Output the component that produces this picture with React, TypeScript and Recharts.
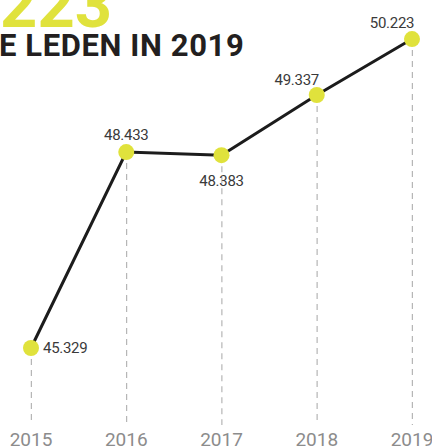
import { ComposedChart, Line, Bar, XAxis, YAxis } from "recharts";

const years = [2015, 2016, 2017, 2018, 2019];
const members = [45329, 48433, 48383, 49337, 50223];

// where each value label sits relative to its dot
const labelOffsets: [number, number, "start" | "middle"][] = [
  [12, 5, "start"],
  [0, -12, "middle"],
  [0, 31, "middle"],
  [-20, -10, "middle"],
  [-20, -11, "middle"],
];

const data = years.map((year, i) => ({ year, members: members[i] }));

const fmt = (v: number) => {
  const s = String(v);
  return s.slice(0, s.length - 3) + "." + s.slice(-3);
};

const DashedStem = (props: any) => {
  const { x, y, width, height } = props;
  const cx = x + width / 2;
  return (
    <line x1={cx} x2={cx} y1={y} y2={y + height} stroke="#b5b5b5" strokeWidth={1.2} strokeDasharray="6 5" />
  );
};

const ValueLabel = (props: any) => {
  const { x, y, index, value } = props;
  const [dx, dy, anchor] = labelOffsets[index];
  return (
    <text x={x + dx} y={y + dy} textAnchor={anchor} fontSize={15} fill="#3a3a3a" fontFamily="Roboto, sans-serif" letterSpacing={-0.3}>
      {fmt(value)}
    </text>
  );
};

export default function App() {
  return (
    <div style={{ position: "absolute", top: 0, left: 0, width: 432, height: 446, overflow: "hidden", background: "#fff" }}>
      <svg width={432} height={80} style={{ position: "absolute", top: 0, left: 0 }}>
        <text x={112} y={27} textAnchor="end" fontSize={65} fontWeight={700} fill="#e0e23c" fontFamily="Roboto, sans-serif">
          50.223
        </text>
        <text x={-1} y={56} fontSize={31} fontWeight={700} fill="#231f20" fontFamily="Roboto, sans-serif" letterSpacing={0.6}>
          E LEDEN IN 2019
        </text>
      </svg>
      <ComposedChart
        width={432}
        height={446}
        data={data}
        margin={{ top: 10, right: 20, bottom: 0, left: 31 }}
        style={{ position: "absolute", top: 0, left: 0 }}
      >
        <XAxis
          dataKey="year"
          type="number"
          domain={[2015, 2019]}
          ticks={years}
          axisLine={false}
          tickLine={false}
          tickSize={0}
          tickMargin={8}
          height={21}
          tick={{ fontSize: 19, fill: "#8c8c8c", fontFamily: "Roboto, sans-serif" }}
        />
        <YAxis hide domain={[44109, 50683]} />
        <Bar dataKey="members" barSize={2} shape={<DashedStem />} isAnimationActive={false} />
        <Line
          dataKey="members"
          stroke="#1c1c1c"
          strokeWidth={3}
          dot={{ r: 8, fill: "#e0e23c", stroke: "none" }}
          activeDot={false}
          label={<ValueLabel />}
          isAnimationActive={false}
        />
      </ComposedChart>
    </div>
  );
}
